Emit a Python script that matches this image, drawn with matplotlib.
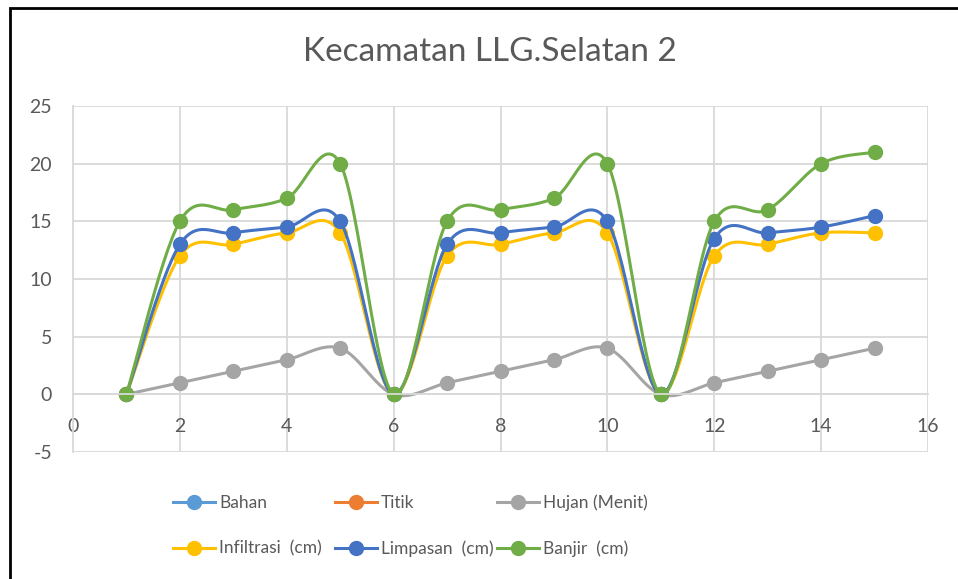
import numpy as np
import matplotlib
matplotlib.use("Agg")
import matplotlib.pyplot as plt
from matplotlib.patches import Rectangle

TEXT_COLOR = '#595959'
GRID_COLOR = '#D9D9D9'

# data
x = [1, 2, 3, 4, 5, 6, 7, 8, 9, 10, 11, 12, 13, 14, 15]
bahan = []
titik = []
hujan = [0, 1, 2, 3, 4, 0, 1, 2, 3, 4, 0, 1, 2, 3, 4]
infiltrasi = [0, 12, 13, 14, 14, 0, 12, 13, 14, 14, 0, 12, 13, 14, 14]
limpasan = [0, 13, 14, 14.5, 15, 0, 13, 14, 14.5, 15, 0, 13.5, 14, 14.5, 15.5]
banjir = [0, 15, 16, 17, 20, 0, 15, 16, 17, 20, 0, 15, 16, 20, 21]

series = [
    ('Bahan', bahan, '#5B9BD5'),
    ('Titik', titik, '#ED7D31'),
    ('Hujan (Menit)', hujan, '#A5A5A5'),
    ('Infiltrasi  (cm)', infiltrasi, '#FFC000'),
    ('Limpasan  (cm)', limpasan, '#4472C4'),
    ('Banjir  (cm)', banjir, '#70AD47'),
]


def smooth(xs, ys, n=30):
    # excel-like smoothed line: bezier segments with catmull-rom control points
    if len(xs) < 2:
        return list(xs), list(ys)
    p = np.column_stack([xs, ys]).astype(float)
    p = np.vstack([p[0], p, p[-1]])
    out = []
    t = np.linspace(0, 1, n)[:, None]
    for i in range(1, len(p) - 2):
        a = p[i]
        d = p[i + 1]
        b = a + (p[i + 1] - p[i - 1]) / 6
        c = d - (p[i + 2] - p[i]) / 6
        seg = (1 - t) ** 3 * a + 3 * (1 - t) ** 2 * t * b + 3 * (1 - t) * t ** 2 * c + t ** 3 * d
        out.append(seg if i == 1 else seg[1:])
    out = np.vstack(out)
    return out[:, 0], out[:, 1]


plt.rcParams['font.family'] = ['Lato', 'DejaVu Sans']
plt.rcParams['axes.unicode_minus'] = False
fig = plt.figure(figsize=(9.58, 5.79), dpi=100)
ax = fig.add_axes([73 / 958, 1 - 452 / 579, 855 / 958, 346 / 579])

handles = []
for name, ys, color in series:
    xs = x[:len(ys)]
    sx, sy = smooth(xs, ys)
    ax.plot(sx, sy, color=color, lw=2.2, solid_capstyle='round')
    ax.plot(xs, ys, 'o', color=color, ms=10)
    # legend handle
    h, = ax.plot([], [], color=color, lw=2.2, marker='o', ms=10, label=name)
    handles.append(h)

ax.set_xlim(0, 16)
ax.set_ylim(-5, 25)
ax.set_xticks(range(0, 17, 2))
ax.set_yticks(range(-5, 26, 5))
ax.grid(True, color=GRID_COLOR, lw=1.3)
ax.set_axisbelow(True)
for s in ['top', 'right']:
    ax.spines[s].set_visible(False)
ax.spines['bottom'].set_position(('data', 0))
ax.spines['bottom'].set_color(GRID_COLOR)
ax.spines['left'].set_color(GRID_COLOR)
ax.spines['bottom'].set_linewidth(1.3)
ax.spines['left'].set_linewidth(1.3)
ax.tick_params(axis='x', length=0, pad=17, labelsize=14, labelcolor=TEXT_COLOR)
ax.tick_params(axis='y', length=0, pad=15, labelsize=14, labelcolor=TEXT_COLOR)

fig.text(490 / 958, 1 - 52 / 579, 'Kecamatan LLG.Selatan 2', ha='center', va='center',
         fontsize=24, color=TEXT_COLOR)

# excel lays the legend out in fixed-width columns: one small legend per column
col_x = [173, 335, 497]
for c in range(3):
    hs = [handles[c], handles[c + 3]]
    leg = fig.legend(hs, [h.get_label() for h in hs], loc='center left',
                     bbox_to_anchor=(col_x[c] / 958, 1 - 526 / 579),
                     frameon=False, fontsize=12.5, handlelength=2.4, handletextpad=0.25,
                     labelspacing=1.68, borderpad=0, borderaxespad=0)
    for t in leg.get_texts():
        t.set_color(TEXT_COLOR)

fig.patches.append(Rectangle((10 / 958, -0.1), 1.2, 1.1 - 7.5 / 579, transform=fig.transFigure,
                             fill=False, edgecolor='black', lw=2.0, figure=fig))

fig.savefig('out.png', dpi=100)
